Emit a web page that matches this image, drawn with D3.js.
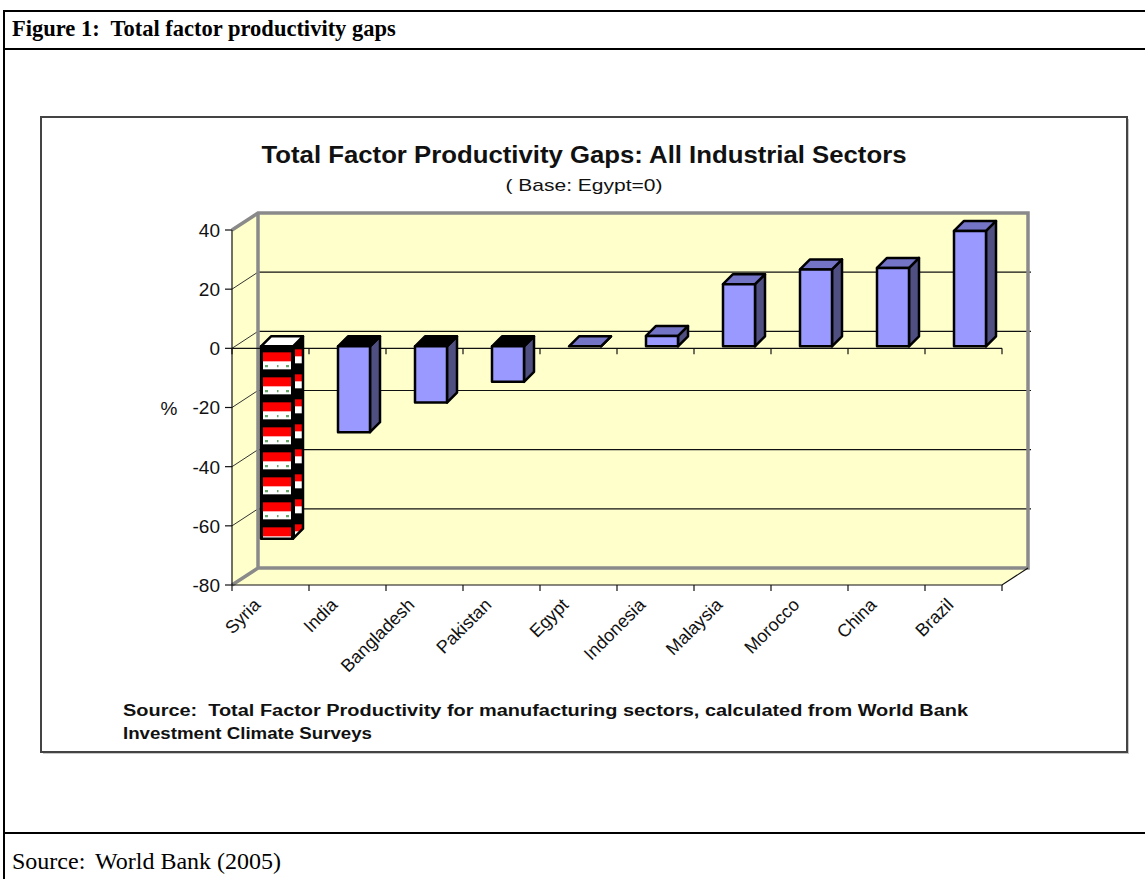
<!DOCTYPE html>
<html>
<head>
<meta charset="utf-8">
<script src="https://cdn.jsdelivr.net/npm/d3@7"></script>
<style>
  body { margin: 0; background: #fff; }
  svg { display: block; }
  text { font-family: 'Liberation Sans', Arial, sans-serif; fill: #111; }
  .serif { font-family: 'Liberation Serif', 'Times New Roman', serif; fill: #000; }
</style>
</head>
<body>
<div id="vis"></div>
<script>
// data
const categories = ['Syria', 'India', 'Bangladesh', 'Pakistan', 'Egypt', 'Indonesia', 'Malaysia', 'Morocco', 'China', 'Brazil'];
const gaps = [-65, -29, -19, -12, 0, 3.5, 21, 26, 26.5, 39];
const highlighted = ['Syria'];
const yTicks = [40, 20, 0, -20, -40, -60, -80];

const figureHeading = 'Figure 1:  Total factor productivity gaps';
const chartTitle = 'Total Factor Productivity Gaps: All Industrial Sectors';
const chartSubtitle = '( Base: Egypt=0)';
const yLabel = '%';
const chartNote = ['Source:  Total Factor Productivity for manufacturing sectors, calculated from World Bank', 'Investment Climate Surveys'];
const pageSource = ['Source:', 'World Bank (2005)'];

const FRAME_WIDTH = 1145;
const FRAME_HEIGHT = 879;
const PLOT = { left: 232, right: 1002, top: 230, bottom: 585 };
const WALL = { dx: 26, dy: -17 };
const BAR = { offset: 29, width: 32, dx: 10, dy: -10, lift: 2 };

const svg = d3.select('#vis')
  .append('svg')
  .attr('width', FRAME_WIDTH)
  .attr('height', FRAME_HEIGHT);

const defs = svg.append('defs');

// document frame round the figure
const frame = svg.append('g').attr('stroke', '#000').attr('stroke-width', 2);
frame.append('line').attr('x1', 4).attr('y1', 11).attr('x2', FRAME_WIDTH).attr('y2', 11);
frame.append('line').attr('x1', 4).attr('y1', 10).attr('x2', 4).attr('y2', FRAME_HEIGHT);
frame.append('line').attr('x1', 4).attr('y1', 49).attr('x2', FRAME_WIDTH).attr('y2', 49);
frame.append('line').attr('x1', 4).attr('y1', 833).attr('x2', FRAME_WIDTH).attr('y2', 833);

svg.append('text').attr('class', 'serif')
  .attr('x', 12).attr('y', 36)
  .attr('font-size', 22.5).attr('font-weight', 'bold')
  .style('white-space', 'pre')
  .text(figureHeading);

svg.append('text').attr('class', 'serif')
  .attr('x', 12).attr('y', 869)
  .attr('font-size', 24)
  .text(pageSource[0]);
svg.append('text').attr('class', 'serif')
  .attr('x', 95).attr('y', 869)
  .attr('font-size', 24)
  .text(pageSource[1]);

// chart area box
svg.append('rect')
  .attr('x', 43).attr('y', 119).attr('width', 1086).attr('height', 635)
  .attr('fill', '#c8c8c8');
svg.append('rect')
  .attr('x', 41).attr('y', 117).attr('width', 1086).attr('height', 635)
  .attr('fill', '#fff').attr('stroke', '#444').attr('stroke-width', 2);

svg.append('text')
  .attr('x', 584).attr('y', 163)
  .attr('text-anchor', 'middle')
  .attr('font-size', 23).attr('font-weight', 'bold')
  .attr('textLength', 645).attr('lengthAdjust', 'spacingAndGlyphs')
  .text(chartTitle);

svg.append('text')
  .attr('x', 584).attr('y', 191)
  .attr('text-anchor', 'middle')
  .attr('font-size', 17)
  .attr('textLength', 157).attr('lengthAdjust', 'spacingAndGlyphs')
  .style('white-space', 'pre')
  .text(chartSubtitle);

const X_SCALE = d3.scaleBand()
  .domain(categories)
  .range([PLOT.left, PLOT.right]);

const Y_SCALE = d3.scaleLinear()
  .domain([d3.min(yTicks), d3.max(yTicks)])
  .range([PLOT.bottom, PLOT.top]);

const L = PLOT.left, R = PLOT.right;
const yTop = Y_SCALE(d3.max(yTicks));
const yBot = Y_SCALE(d3.min(yTicks));
const pts = (arr) => arr.map((p) => p.join(',')).join(' ');

// walls and floor
const walls = svg.append('g').attr('fill', '#ffffcc');
walls.append('polygon').attr('points', pts([[L + WALL.dx, yTop + WALL.dy], [R + WALL.dx, yTop + WALL.dy], [R + WALL.dx, yBot + WALL.dy], [L + WALL.dx, yBot + WALL.dy]]));
walls.append('polygon').attr('points', pts([[L, yTop], [L + WALL.dx, yTop + WALL.dy], [L + WALL.dx, yBot + WALL.dy], [L, yBot]]));
walls.append('polygon').attr('points', pts([[L, yBot], [L + WALL.dx, yBot + WALL.dy], [R + WALL.dx, yBot + WALL.dy], [R, yBot]]));

// gridlines on back wall and side wall
const inner = yTicks.filter((t) => t !== d3.max(yTicks) && t !== d3.min(yTicks));
const grid = svg.append('g').attr('stroke', '#111').attr('stroke-width', 1.2);
grid.selectAll('.back')
  .data(inner)
  .enter().append('line')
  .attr('x1', L + WALL.dx).attr('x2', R + WALL.dx + 3)
  .attr('y1', (d) => Y_SCALE(d) + WALL.dy).attr('y2', (d) => Y_SCALE(d) + WALL.dy);
grid.selectAll('.side')
  .data(inner)
  .enter().append('line')
  .attr('stroke', '#333').attr('stroke-width', 1)
  .attr('x1', L).attr('x2', L + WALL.dx)
  .attr('y1', (d) => Y_SCALE(d)).attr('y2', (d) => Y_SCALE(d) + WALL.dy);

// gray wall edges
svg.append('path')
  .attr('d', `M${L},${yTop}L${L + WALL.dx},${yTop + WALL.dy}L${R + WALL.dx},${yTop + WALL.dy}L${R + WALL.dx},${yBot + WALL.dy}L${L + WALL.dx},${yBot + WALL.dy}L${L},${yBot}M${L + WALL.dx},${yTop + WALL.dy}L${L + WALL.dx},${yBot + WALL.dy}`)
  .attr('fill', 'none').attr('stroke', '#8a8a8a').attr('stroke-width', 3.5);

// floor front edge with ticks
const boundaries = categories.map((c) => X_SCALE(c)).concat([R]);
svg.append('path')
  .attr('d', `M${L},${yBot}L${R},${yBot}L${R + WALL.dx},${yBot + WALL.dy}`)
  .attr('fill', 'none').attr('stroke', '#111').attr('stroke-width', 1.2);
svg.append('g').selectAll('line')
  .data(boundaries).enter().append('line')
  .attr('x1', (d) => d).attr('x2', (d) => d)
  .attr('y1', yBot).attr('y2', yBot + 6)
  .attr('stroke', '#111').attr('stroke-width', 1.2);

// value axis
svg.append('line')
  .attr('x1', L).attr('x2', L).attr('y1', yTop).attr('y2', yBot)
  .attr('stroke', '#111').attr('stroke-width', 1.2);
svg.append('g').selectAll('line')
  .data(yTicks).enter().append('line')
  .attr('x1', L - 7).attr('x2', L)
  .attr('y1', (d) => Y_SCALE(d)).attr('y2', (d) => Y_SCALE(d))
  .attr('stroke', '#111').attr('stroke-width', 1.2);
svg.append('g').selectAll('text')
  .data(yTicks).enter().append('text')
  .attr('x', L - 12)
  .attr('y', (d) => Y_SCALE(d))
  .attr('dy', '0.36em')
  .attr('text-anchor', 'end')
  .attr('font-size', 19)
  .attr('fill', '#222')
  .text((d) => d);

svg.append('text')
  .attr('x', 169).attr('y', Y_SCALE(-20) + 7)
  .attr('text-anchor', 'middle')
  .attr('font-size', 19)
  .text(yLabel);

// category axis at zero
const y0 = Y_SCALE(0);
svg.append('line')
  .attr('x1', L).attr('x2', R).attr('y1', y0).attr('y2', y0)
  .attr('stroke', '#111').attr('stroke-width', 1.2);
svg.append('g').selectAll('line')
  .data(boundaries).enter().append('line')
  .attr('x1', (d) => d).attr('x2', (d) => d)
  .attr('y1', y0).attr('y2', y0 + 6)
  .attr('stroke', '#111').attr('stroke-width', 1.2);

// bar geometry from the scales
const bars = categories.map((c, i) => ({ category: c, value: gaps[i] }));
bars.forEach((d) => {
  d.x = X_SCALE(d.category) + BAR.offset;
  d.top = Y_SCALE(Math.max(d.value, 0)) - BAR.lift;
  d.bottom = Y_SCALE(Math.min(d.value, 0)) - BAR.lift;
  d.special = highlighted.includes(d.category);
});

// patterned fill for the highlighted bar
bars.filter((d) => d.special).forEach((d, i) => {
  const front = defs.append('pattern')
    .attr('id', 'front' + i)
    .attr('patternUnits', 'userSpaceOnUse')
    .attr('x', d.x).attr('y', d.top)
    .attr('width', BAR.width).attr('height', 25);
  front.append('rect').attr('width', BAR.width).attr('height', 25).attr('fill', '#000');
  front.append('rect').attr('x', 2).attr('y', 6).attr('width', BAR.width - 4).attr('height', 9).attr('fill', '#ff0000');
  front.append('rect').attr('x', 2).attr('y', 15).attr('width', BAR.width - 4).attr('height', 8).attr('fill', '#ffffff');
  front.append('rect').attr('x', 4).attr('y', 19).attr('width', 3).attr('height', 1.5).attr('fill', '#1a7a1a');
  front.append('rect').attr('x', BAR.width - 7).attr('y', 19).attr('width', 3).attr('height', 1.5).attr('fill', '#1a7a1a');
  front.append('rect').attr('x', BAR.width / 2).attr('y', 19).attr('width', 1.5).attr('height', 1.5).attr('fill', '#1a7a1a');

  const side = defs.append('pattern')
    .attr('id', 'side' + i)
    .attr('patternUnits', 'userSpaceOnUse')
    .attr('x', d.x + BAR.width).attr('y', d.top)
    .attr('width', BAR.dx + 2).attr('height', 25);
  side.append('rect').attr('width', BAR.dx + 2).attr('height', 25).attr('fill', '#000');
  side.append('rect').attr('x', 2).attr('y', 3).attr('width', BAR.dx - 3).attr('height', 7).attr('fill', '#ff0000');
  side.append('rect').attr('x', 2).attr('y', 10).attr('width', BAR.dx - 3).attr('height', 7).attr('fill', '#ffffff');
  d.frontFill = `url(#front${i})`;
  d.sideFill = `url(#side${i})`;
  d.topFill = '#ffffff';
});

const barG = svg.append('g')
  .attr('stroke', '#000').attr('stroke-width', 2.5).attr('stroke-linejoin', 'round');

barG.selectAll('.side')
  .data(bars).enter().append('polygon')
  .attr('points', (d) => pts([[d.x + BAR.width, d.top], [d.x + BAR.width + BAR.dx, d.top + BAR.dy], [d.x + BAR.width + BAR.dx, d.bottom + BAR.dy], [d.x + BAR.width, d.bottom]]))
  .attr('fill', (d) => d.sideFill || '#4f4f82');

barG.selectAll('.top')
  .data(bars).enter().append('polygon')
  .attr('points', (d) => pts([[d.x, d.top], [d.x + BAR.dx, d.top + BAR.dy], [d.x + BAR.width + BAR.dx, d.top + BAR.dy], [d.x + BAR.width, d.top]]))
  .attr('fill', (d) => d.topFill || (d.value < 0 ? '#000' : '#7474c6'));

barG.selectAll('.front')
  .data(bars.filter((d) => d.bottom - d.top > 0)).enter().append('rect')
  .attr('x', (d) => d.x).attr('y', (d) => d.top)
  .attr('width', BAR.width).attr('height', (d) => d.bottom - d.top)
  .attr('fill', (d) => d.frontFill || '#9999ff');

// category labels
svg.append('g').selectAll('text')
  .data(categories).enter().append('text')
  .attr('transform', (d) => `translate(${X_SCALE(d) + X_SCALE.bandwidth() / 2 - 9},${yBot + 21}) rotate(-45)`)
  .attr('text-anchor', 'end')
  .attr('font-size', 18)
  .text((d) => d);

// note under the chart
svg.append('text')
  .attr('x', 123).attr('y', 716)
  .attr('font-size', 16).attr('font-weight', 'bold')
  .attr('textLength', 845).attr('lengthAdjust', 'spacingAndGlyphs')
  .style('white-space', 'pre')
  .text(chartNote[0]);
svg.append('text')
  .attr('x', 123).attr('y', 739)
  .attr('font-size', 16).attr('font-weight', 'bold')
  .attr('textLength', 249).attr('lengthAdjust', 'spacingAndGlyphs')
  .text(chartNote[1]);
</script>
</body>
</html>
